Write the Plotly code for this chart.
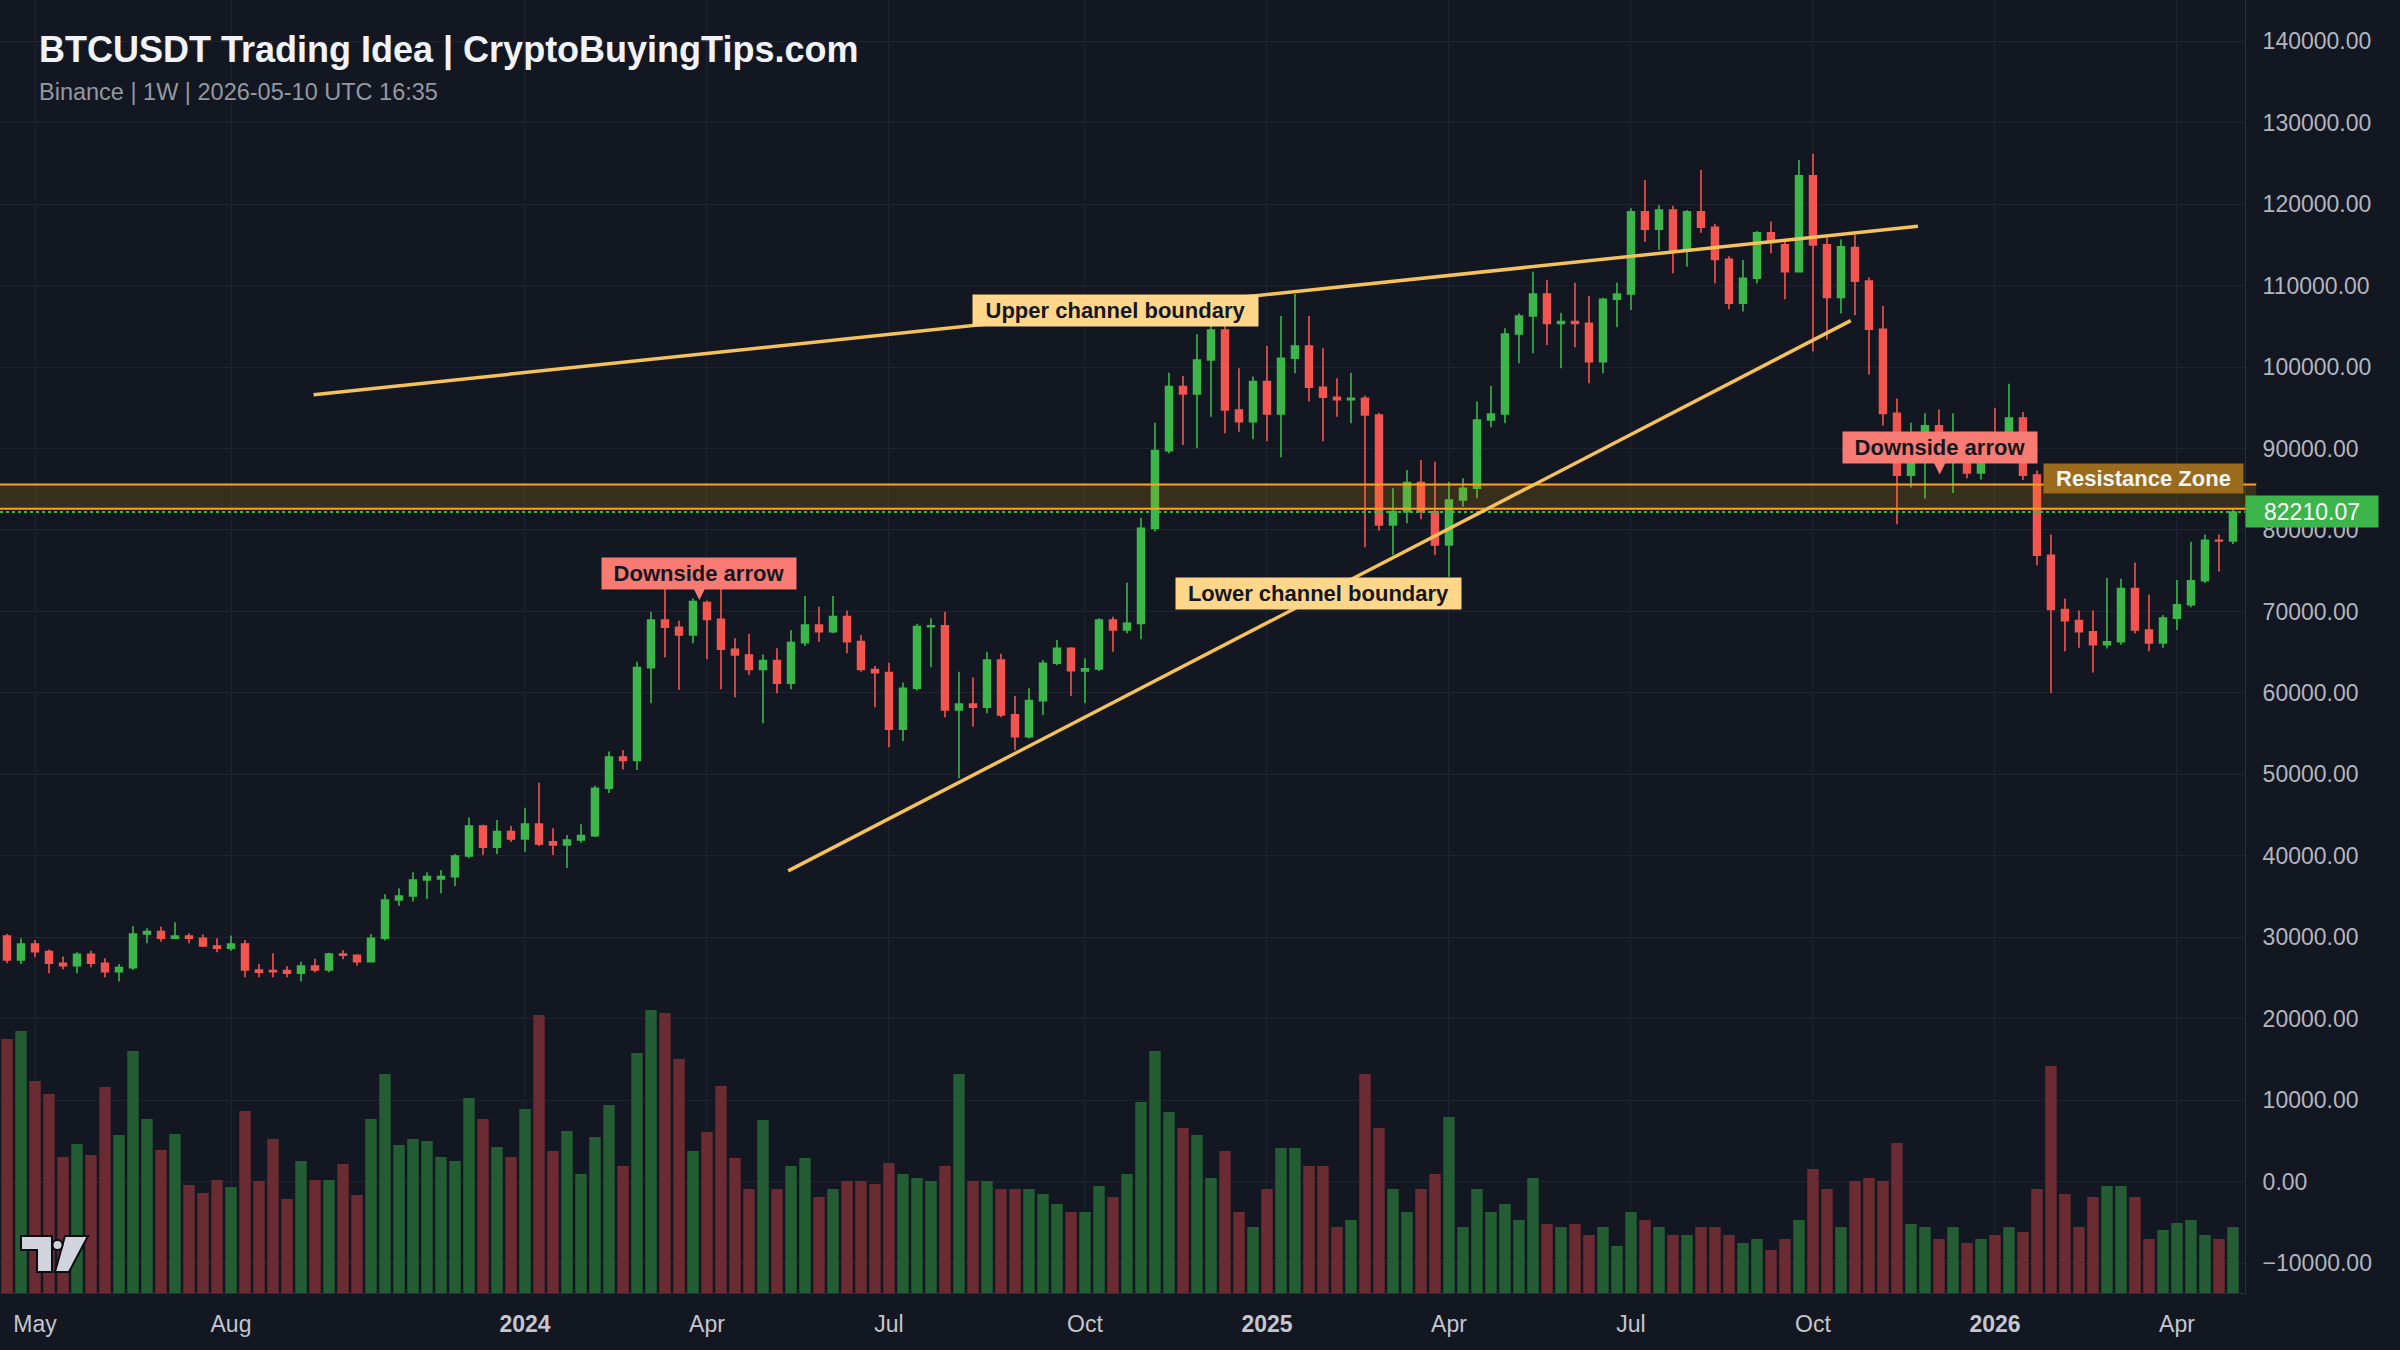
import pandas as pd
import plotly.graph_objects as go

# ---------------- data (weekly BTCUSDT, Binance) ----------------
week_start = "2023-04-17"

opens = [30150, 27210, 29170, 28230, 26800, 26510, 27900, 26800, 25770, 26270,
         30400, 30690, 29870, 30150, 29870, 28930, 28640, 29170, 25980, 25900,
         25900, 25570, 26470, 25980, 27950, 27780, 27000, 29870, 34570, 35060,
         37030, 37150, 37440, 39980, 43660, 41040, 42960, 42060, 43900, 41730,
         41330, 41940, 42470, 48300, 52130, 51700, 63100, 68950, 68050, 67110,
         71080, 69030, 65350, 64650, 62890, 63960, 61180, 66170, 68340, 67520,
         69360, 66290, 62870, 62490, 55530, 60560, 68130, 68250, 57900, 58640,
         58230, 64040, 57300, 54630, 59050, 63630, 65470, 62700, 62950, 68950,
         67720, 68540, 80200, 89740, 97600, 96700, 100870, 104550, 94730, 93300,
         98210, 94240, 101080, 102590, 97520, 96290, 96000, 96170, 94120, 80610,
         82250, 85810, 82250, 78160, 83680, 85120, 93500, 94240, 104060, 106270,
         108980, 105370, 105580, 105370, 100670, 108320, 108980, 119080, 116920, 119290,
         114290, 119080, 117160, 113230, 107830, 110900, 116500, 115000, 111720, 123500,
         115000, 108550, 114680, 110550, 104640, 94320, 86730, 90400, 92800, 90300,
         90900, 87000, 91000, 90300, 93730, 86730, 76900, 70230, 68870, 67500,
         65910, 66270, 72820, 67730, 66140, 69180, 70820, 73770, 78730, 78640]
highs = [30400, 29870, 29660, 28500, 27620, 28150, 28350, 27410, 26720, 31380,
         31100, 31300, 31830, 30480, 30330, 29870, 30200, 29660, 26720, 28030,
         26470, 26980, 27370, 28100, 28400, 27900, 30400, 35270, 36000, 37970,
         37970, 38260, 40220, 44700, 43800, 44400, 43660, 45900, 48970, 43370,
         42550, 43860, 48600, 52800, 52980, 63830, 69970, 73780, 68870, 71610,
         71340, 72800, 66700, 67230, 64700, 65470, 67720, 71900, 70590, 71900,
         70100, 67110, 63300, 63710, 61260, 68500, 69150, 69970, 62600, 61900,
         65060, 64800, 59620, 60560, 64040, 66500, 65600, 64240, 69150, 69360,
         73530, 81500, 93180, 99320, 98900, 104020, 105250, 108350, 99850, 98830,
         102590, 106270, 108980, 106270, 102300, 98620, 99320, 96500, 94400, 85120,
         87370, 88590, 88390, 85930, 86340, 95760, 97680, 104760, 106600, 111720,
         110690, 106680, 110370, 108730, 108500, 110370, 119500, 122970, 119900, 119800,
         119300, 124200, 117600, 113600, 113150, 116700, 117860, 115400, 125430, 126200,
         115900, 115680, 116270, 111000, 107500, 96140, 93180, 94320, 94800, 94320,
         91500, 91500, 95000, 97950, 94500, 87300, 79460, 71600, 70100, 70100,
         74100, 74000, 76000, 72050, 69550, 73860, 78550, 79460, 79460, 82700]
lows = [26800, 26720, 27540, 25570, 26060, 25570, 26300, 25080, 24550, 25980,
        29250, 29460, 29870, 29250, 28800, 28150, 28350, 25080, 25080, 25080,
        25080, 24550, 25700, 25700, 27300, 26500, 26900, 29600, 33840, 34400,
        34700, 35390, 36290, 39700, 40100, 40200, 41700, 40500, 41200, 40100,
        38500, 41600, 42300, 47700, 50600, 50540, 58720, 64370, 60360, 66090,
        64120, 60440, 59460, 62200, 56260, 59950, 60440, 65760, 66290, 67310,
        64860, 62600, 58230, 53320, 54090, 60300, 63140, 57000, 49510, 55850,
        57490, 57000, 52990, 54400, 57290, 63400, 59620, 58720, 62700, 65060,
        67310, 66580, 79800, 89400, 90440, 90030, 93910, 91870, 92070, 91130,
        90900, 88920, 99240, 95760, 90900, 93910, 93100, 77870, 79920, 76930,
        80820, 81310, 76930, 74270, 82860, 83900, 92600, 93100, 100460, 101690,
        102710, 99850, 102430, 98010, 99240, 104880, 107010, 115400, 114380, 111510,
        112330, 116500, 110290, 107090, 106810, 110290, 113970, 108320, 111600, 101900,
        103400, 106590, 106360, 99090, 92820, 80690, 85230, 83860, 89600, 84550,
        86360, 86200, 89800, 89800, 86140, 75680, 60000, 65100, 65550, 62500,
        65450, 65900, 67300, 65100, 65550, 67730, 70500, 73500, 74910, 78270]
closes = [27210, 29170, 28230, 26800, 26510, 27900, 26800, 25770, 26270, 30400,
          30690, 29870, 30150, 29870, 28930, 28640, 29170, 25980, 25700, 25770,
          25570, 26470, 25980, 27950, 27780, 27000, 29870, 34570, 35060, 37030,
          37440, 37440, 39980, 43660, 41040, 42960, 42060, 43900, 41450, 41330,
          41940, 42470, 48300, 52130, 51700, 63100, 68950, 68050, 67110, 71200,
          69030, 65350, 64650, 62890, 63960, 61180, 66170, 68340, 67520, 69360,
          66290, 62870, 62490, 55530, 60560, 68130, 68250, 57900, 58640, 58230,
          64040, 57300, 54630, 59050, 63630, 65470, 62730, 62950, 68950, 67720,
          68540, 80200, 89740, 97600, 96700, 100870, 104550, 94730, 93300, 98210,
          94240, 101080, 102590, 97520, 96290, 96000, 96170, 94120, 80610, 82250,
          85810, 82250, 78160, 83680, 85120, 93500, 94240, 104060, 106270, 108980,
          105370, 105580, 105370, 100670, 108320, 108980, 119080, 116920, 119290, 114290,
          119080, 117160, 113230, 107830, 110900, 116500, 115300, 111720, 123500, 115000,
          108550, 114770, 110550, 104640, 94320, 86730, 90400, 92800, 90300, 90900,
          87000, 91000, 90300, 93730, 86730, 76900, 70230, 68870, 67500, 65910,
          66270, 72820, 67730, 66140, 69180, 70820, 73770, 78730, 78640, 82210.07]
volumes = [254, 262, 212, 199, 136, 149, 138, 206, 158, 242,
           174, 143, 159, 108, 100, 113, 106, 182, 112, 154,
           94, 132, 113, 113, 129, 98, 174, 219, 148, 154,
           152, 136, 132, 195, 174, 146, 136, 184, 278, 142,
           162, 119, 156, 188, 127, 240, 283, 280, 234, 142,
           161, 207, 135, 104, 173, 104, 127, 135, 96, 104,
           112, 112, 109, 130, 119, 115, 112, 127, 219, 112,
           112, 104, 104, 104, 99, 89, 81, 81, 107, 96,
           119, 191, 242, 181, 165, 158, 115, 142, 81, 66,
           104, 145, 145, 127, 127, 66, 73, 219, 165, 104,
           81, 104, 119, 176, 66, 104, 81, 89, 73, 115,
           69, 66, 69, 58, 66, 47, 81, 73, 66, 58,
           58, 66, 66, 58, 50, 54, 43, 54, 73, 124,
           104, 66, 112, 115, 112, 150, 69, 66, 54, 66,
           50, 54, 58, 66, 61, 104, 227, 99, 66, 96,
           107, 107, 96, 54, 63, 70, 73, 58, 54, 66]

tick_dates = ["2023-05-01", "2023-08-07", "2024-01-01", "2024-04-01", "2024-07-01", "2024-10-07",
              "2025-01-06", "2025-04-07", "2025-07-07", "2025-10-06", "2026-01-05", "2026-04-06"]
tick_text = ["May", "Aug", "<b>2024</b>", "Apr", "Jul", "Oct",
             "<b>2025</b>", "Apr", "Jul", "Oct", "<b>2026</b>", "Apr"]

resistance_zone = [82620, 85600]
last_price = 82210.07
# trend lines: (week index, price) at each end
upper_channel = [(21.9, 96600), (136.5, 117300)]
lower_channel = [(55.8, 38150), (131.7, 105700)]

assert len(opens) == len(highs) == len(lows) == len(closes) == len(volumes) == 160

# ---------------- styling ----------------
BG = "#131722"
GRID = "#1f2330"
UP = "#3CB54B"
DOWN = "#F25550"
UP_VOL = "#245C34"
DOWN_VOL = "#6B2B32"
FONT = "Liberation Sans, Arial, sans-serif"
PLOT_W, PLOT_H = 2245, 1293

dates = pd.date_range(week_start, periods=len(opens), freq="7D")


def wk(i):
    return dates[0] + pd.Timedelta(days=7 * i)


vol_colors = [UP_VOL if c >= o else DOWN_VOL for o, c in zip(opens, closes)]

fig = go.Figure()
fig.add_trace(go.Bar(x=dates, y=volumes, marker=dict(color=vol_colors, line=dict(width=0)),
                     yaxis="y2", hoverinfo="skip"))
fig.add_trace(go.Candlestick(
    x=dates, open=opens, high=highs, low=lows, close=closes,
    increasing=dict(line=dict(color=UP, width=1.6), fillcolor=UP),
    decreasing=dict(line=dict(color=DOWN, width=1.6), fillcolor=DOWN),
    whiskerwidth=0, hoverinfo="skip"))

shapes = []
# resistance zone
shapes.append(dict(type="rect", xref="paper", yref="y", x0=0, x1=1.005,
                   y0=resistance_zone[0], y1=resistance_zone[1],
                   fillcolor="rgba(255,165,0,0.16)", line=dict(width=0), layer="above"))
for yv in resistance_zone:
    shapes.append(dict(type="line", xref="paper", yref="y", x0=0, x1=1.005, y0=yv, y1=yv,
                       line=dict(color="#FFA31A", width=2)))
# last price dotted line
shapes.append(dict(type="line", xref="paper", yref="y", x0=0, x1=1, y0=last_price, y1=last_price,
                   line=dict(color=UP, width=2, dash="dot")))
# channel lines
for (i0, p0), (i1, p1) in (upper_channel, lower_channel):
    shapes.append(dict(type="line", xref="x", yref="y", x0=wk(i0), x1=wk(i1), y0=p0, y1=p1,
                       line=dict(color="#F5C15A", width=3.5)))


# TradingView-like logo (pixel coords -> paper)
def ppath(points):
    s = ""
    for k, (px, py) in enumerate(points):
        s += ("M" if k == 0 else "L") + f"{px / PLOT_W:.5f},{1 - py / PLOT_H:.5f} "
    return s + "Z"


logo_line = dict(color="#0b0d12", width=2)
shapes.append(dict(type="path", xref="paper", yref="paper",
                   path=ppath([(21, 1236), (52, 1236), (52, 1272), (37, 1272), (37, 1250), (21, 1250)]),
                   fillcolor="#D1D4DC", line=logo_line))
shapes.append(dict(type="path", xref="paper", yref="paper",
                   path=ppath([(65, 1236), (88, 1236), (69, 1272), (55, 1272)]),
                   fillcolor="#D1D4DC", line=logo_line))
shapes.append(dict(type="circle", xref="paper", yref="paper",
                   x0=52.5 / PLOT_W, x1=62.5 / PLOT_W, y0=1 - 1250 / PLOT_H, y1=1 - 1240 / PLOT_H,
                   fillcolor="#D1D4DC", line=logo_line))

annotations = []
# title + subtitle
annotations.append(dict(xref="paper", yref="paper", x=37 / PLOT_W, y=1 - 50 / PLOT_H,
                        xanchor="left", yanchor="middle", showarrow=False,
                        text="<b>BTCUSDT Trading Idea | CryptoBuyingTips.com</b>",
                        font=dict(family=FONT, size=36, color="#F0F3FA")))
annotations.append(dict(xref="paper", yref="paper", x=37 / PLOT_W, y=1 - 92 / PLOT_H,
                        xanchor="left", yanchor="middle", showarrow=False,
                        text="Binance | 1W | 2026-05-10 UTC 16:35",
                        font=dict(family=FONT, size=23.5, color="#9598A1")))


def label(text, i, price, bg, fg, w, h=31):
    return dict(x=wk(i), y=price, xref="x", yref="y", showarrow=False, text=f"<b>{text}</b>",
                bgcolor=bg, width=w, height=h, borderpad=0,
                font=dict(family=FONT, size=22, color=fg))


def arrow_label(text, i, price, bg, fg, w, h=31):
    return dict(x=wk(i), y=price, xref="x", yref="y", showarrow=True, ax=0, ay=-27,
                arrowhead=2, arrowsize=1.3, arrowwidth=2.5, arrowcolor=bg, standoff=0,
                text=f"<b>{text}</b>", bgcolor=bg, width=w, height=h, borderpad=0,
                font=dict(family=FONT, size=22, color=fg))


annotations.append(label("Upper channel boundary", 79.2, 107000, "#FFD68A", "#131722", 285))
annotations.append(label("Lower channel boundary", 93.7, 72150, "#FFD68A", "#131722", 285))
annotations.append(arrow_label("Downside arrow", 49.45, 71400, "#F77B72", "#131722", 194))
annotations.append(arrow_label("Downside arrow", 138.05, 86800, "#F77B72", "#131722", 194))
annotations.append(label("Resistance Zone", 152.6, 86380, "#9A6B1C", "#F5F5F5", 199, 29))
# last price tag on the axis
annotations.append(dict(xref="paper", yref="y", x=1.0, y=last_price, xanchor="left", yanchor="middle",
                        showarrow=False, text=f"{last_price:.2f}", bgcolor=UP, width=132, height=31,
                        align="center", borderpad=0,
                        font=dict(family=FONT, size=23, color="#FFFFFF")))

fig.update_layout(
    width=2400, height=1350,
    margin=dict(l=0, r=2400 - PLOT_W, t=0, b=1350 - PLOT_H),
    paper_bgcolor=BG, plot_bgcolor=BG,
    showlegend=False, hovermode=False,
    boxgap=0.3, bargap=0.18,
    shapes=shapes, annotations=annotations,
    xaxis=dict(type="date", range=[wk(-0.5), wk(159.86)], rangeslider=dict(visible=False),
               tickvals=tick_dates, ticktext=tick_text, showgrid=True, gridcolor=GRID, gridwidth=1,
               showline=True, linecolor="#2A2E39", linewidth=1, zeroline=False, ticks="",
               tickfont=dict(family=FONT, size=23, color="#C3C6CE"), ticklabelstandoff=10),
    yaxis=dict(side="right", range=[-13680, 145070], dtick=10000, tick0=0, tickformat=".2f",
               showgrid=True, gridcolor=GRID, gridwidth=1, zeroline=False,
               showline=True, linecolor="#2A2E39", linewidth=1, ticks="",
               tickfont=dict(family=FONT, size=23, color="#B2B5BE"), ticklabelstandoff=12),
    yaxis2=dict(overlaying="y", side="right", range=[0, PLOT_H], visible=False, showgrid=False),
)

fig.write_html("out.html", config={"displayModeBar": False},
               post_script="document.body.style.margin='0';document.body.style.padding='0';"
                           "document.body.style.background='#131722';")
